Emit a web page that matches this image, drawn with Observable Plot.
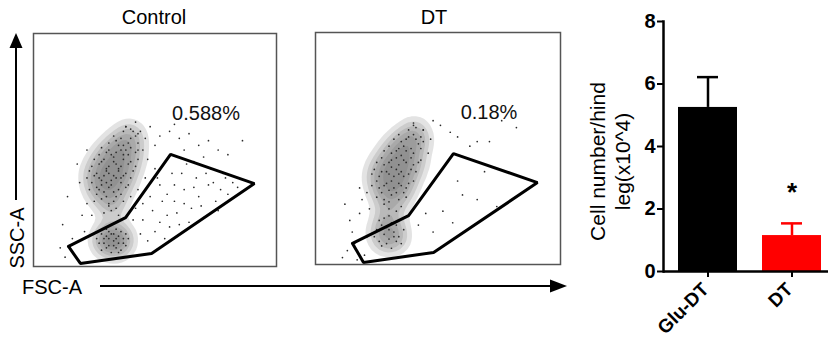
<!DOCTYPE html>
<html>
<head>
<meta charset="utf-8">
<script src="https://cdn.jsdelivr.net/npm/d3@7"></script>
<script src="https://cdn.jsdelivr.net/npm/@observablehq/plot@0.6"></script>
<style>
  html, body { margin: 0; padding: 0; background: #fff; }
  #wrap { position: relative; width: 831px; height: 342px; overflow: hidden; font-family: "Liberation Sans", Arial, sans-serif; }
  #wrap > * { position: absolute; }
</style>
</head>
<body>
<div id="wrap"></div>
<script>
// ---------- Flow cytometry panels (FSC-A vs SSC-A, arbitrary 0-100 units) ----------
const panelTitles = ["Control", "DT"];
const gatePercents = ["0.588%", "0.18%"];

const controlGate = [[14.4, 8.6], [37.9, 21.0], [56.4, 48.1], [90.9, 35.6], [48.6, 5.6], [19.3, 1.3], [14.4, 8.6]];
const dtGate = [[15.1, 9.1], [38.0, 21.1], [56.3, 47.8], [90.6, 35.3], [48.2, 5.2], [19.6, 0.9], [15.1, 9.1]];

const controlCore = [
  [29,23],[32,24],[35,22],[31,26],[34,25],
  [25,28],[28,29],[31,27],[34,30],[37,28],[26,31],[30,30],[33,28],[36,31],
  [23,33],[26,34],[29,32],[32,35],[35,33],[38,34],[24,36],[27,33],[30,36],[33,32],[36,36],[39,35],[28,35],[31,34],
  [22,38],[25,39],[28,37],[31,40],[34,38],[37,39],[40,38],[23,41],[26,40],[29,39],[32,37],[35,41],[38,40],[41,41],[30,41],[33,39],[27,38],[36,38],
  [24,43],[27,44],[30,42],[33,45],[36,43],[39,44],[42,43],[25,46],[28,45],[31,43],[34,44],[37,46],[40,45],[43,46],[29,46],[35,42],
  [27,48],[30,49],[33,47],[36,50],[39,48],[42,49],[28,51],[31,50],[34,49],[37,48],[40,51],[43,50],[32,48],[38,50],
  [31,53],[34,54],[37,52],[40,55],[43,53],[33,56],[36,55],[39,53],[42,56],[35,52],
  [37,58],[40,59],[43,57],[38,60],[41,58]
];
const controlLow = [
  [27,10],[29,12],[31,9],[33,11],[35,13],[37,10],[39,12],[28,14],[30,16],[32,14],
  [34,16],[36,15],[38,14],[28,7],[30,8],[32,6],[34,8],[36,7],[38,9],[29,10],
  [31,12],[33,14],[35,10],[37,12],[26,12],[31,15],[33,9],[35,6],[30,13],[34,12]
];
const controlGated = [
  [42,25],[45,20],[48,30],[50,15],[52,35],[55,22],[57,40],[58,28],[60,18],[62,33],
  [63,44],[65,25],[67,38],[68,30],[70,21],[72,35],[73,42],[75,28],[77,33],[79,38],
  [80,31],[82,36],[84,34],[46,38],[50,42],[53,28],[44,14],[47,11],[54,12],[59,23],
  [61,40],[64,19],[66,45],[69,26],[71,40],[76,24],[78,40],[40,30],[43,33],[56,17],
  [41,20],[49,24],[51,38],[55,31],[62,27],[66,34],[74,36],[45,27],[52,19],[58,35]
];
const controlSpray = [
  [44,58],[48,60],[52,56],[56,58],[60,55],[64,57],[68,52],[72,54],[76,50],[80,48],
  [86,54],[42,62],[50,52],[58,61],[62,50],[38,60],[46,55],[70,47],[45,50],[47,46]
];
const controlLeft = [[12,18],[14,30],[18,44],[20,22],[11,8],[16,12],[22,50],[19,36],[13,4],[21,15],[24,22],[22,27]];

const dtCore = [
  [30,24],[33,23],[28,26],[35,25],
  [25,29],[28,28],[31,30],[34,28],[37,29],[27,31],[30,27],[33,31],[36,31],
  [23,34],[26,33],[29,35],[32,33],[35,34],[38,35],[25,36],[28,34],[31,36],[34,35],[37,33],[40,36],[30,32],
  [23,39],[26,38],[29,40],[32,38],[35,40],[38,39],[41,40],[24,41],[27,40],[30,39],[33,41],[36,38],[39,41],[31,42],[34,39],
  [25,44],[28,43],[31,45],[34,43],[37,44],[40,43],[43,45],[27,46],[30,44],[33,46],[36,45],[39,46],[42,44],[35,47],
  [28,49],[31,48],[34,50],[37,49],[40,48],[43,50],[30,51],[33,49],[36,51],[39,50],[42,52],
  [32,54],[35,53],[38,55],[41,54],[44,53],[34,56],[37,54],[40,56],[43,55],
  [38,58],[41,59],[44,58],[40,61]
];
const dtLow = [
  [24,12],[26,10],[28,13],[30,11],[32,14],[34,12],[36,15],[25,15],[27,17],[29,16],[31,18],
  [33,17],[27,8],[29,9],[31,7],[33,10],[35,9],[28,20],[30,21],[26,19],[32,12],[30,15]
];
const dtGated = [[58,36],[69,40],[66,28],[74,25],[52,23],[60,30],[45,22],[42,17],[48,14],[56,18]];
const dtSpray = [[55,57],[66,53],[71,53],[82,59],[63,51],[51,60],[44,58],[47,54],[40,60],[58,55],[76,62],[46,48],[48,62]];
const dtLeft = [[13,6],[15,14],[18,22],[12,26],[20,4],[16,9],[19,28],[14,19],[21,12],[11,3],[17,2],[22,24],[21,31],[18,33]];

// ---------- Bar chart ----------
const groups = ["Glu-DT", "DT"];
const means = [5.25, 1.15];
const errors = [0.97, 0.39];
const barColors = ["#000000", "#ff0000"];
const significance = ["", "*"];
const yTicks = [0, 2, 4, 6, 8];
const yLabel = "Cell number/hind\nleg(x10^4)";

const FONT = '"Liberation Sans", Arial, sans-serif';
const wrap = document.getElementById("wrap");

function flowPanel(core, low, gated, spray, left, gate, pct, w, h) {
  const all = [...core, ...low, ...gated, ...spray, ...left];
  const dense = [...core, ...low];
  return Plot.plot({
    width: w, height: h, margin: 2,
    style: {fontFamily: FONT, background: "transparent", overflow: "visible"},
    x: {domain: [0, 100], axis: null},
    y: {domain: [0, 100], axis: null},
    marks: [
      Plot.density(dense, {x: d => d[0], y: d => d[1], bandwidth: 7, thresholds: 7, fill: "#666", fillOpacity: 0.18, stroke: null}),
      Plot.dot(all, {x: d => d[0], y: d => d[1], r: 0.85, fill: "#2a2a2a", stroke: null}),
      Plot.line(gate, {x: d => d[0], y: d => d[1], stroke: "#000", strokeWidth: 3, strokeLinejoin: "miter"}),
      Plot.text([pct], {frameAnchor: "top", dx: 51, dy: 72, text: d => d, fontSize: 20, fill: "#111"}),
      Plot.frame({stroke: "#555", strokeWidth: 1.5})
    ]
  });
}

const p1 = flowPanel(controlCore, controlLow, controlGated, controlSpray, controlLeft, controlGate, gatePercents[0], 247, 237);
p1.style.left = "31px"; p1.style.top = "31px";
wrap.appendChild(p1);

const p2 = flowPanel(dtCore, dtLow, dtGated, dtSpray, dtLeft, dtGate, gatePercents[1], 249, 236);
p2.style.left = "313px"; p2.style.top = "30px";
wrap.appendChild(p2);

// Overlay: titles, axis arrows and axis names
const ov = d3.create("svg").attr("width", 831).attr("height", 342)
  .style("left", "0px").style("top", "0px").style("font-family", FONT);
ov.append("text").attr("x", 154).attr("y", 24).attr("text-anchor", "middle").attr("font-size", 20).text(panelTitles[0]);
ov.append("text").attr("x", 434).attr("y", 24).attr("text-anchor", "middle").attr("font-size", 20).text(panelTitles[1]);
ov.append("line").attr("x1", 16).attr("x2", 16).attr("y1", 200).attr("y2", 46).attr("stroke", "#000").attr("stroke-width", 2);
ov.append("path").attr("d", "M16,33L9.5,48L22.5,48Z").attr("fill", "#000");
ov.append("line").attr("x1", 100).attr("x2", 553).attr("y1", 286).attr("y2", 286).attr("stroke", "#000").attr("stroke-width", 2);
ov.append("path").attr("d", "M567,286L550,279.5L550,292.5Z").attr("fill", "#000");
ov.append("text").attr("transform", "translate(24,238) rotate(-90)").attr("text-anchor", "middle").attr("font-size", 20).text("SSC-A");
ov.append("text").attr("x", 22).attr("y", 294).attr("font-size", 20).text("FSC-A");
wrap.appendChild(ov.node());

// Bar chart
const barData = groups.map((g, i) => ({group: g, mean: means[i], upper: means[i] + errors[i], color: barColors[i], sig: significance[i]}));
const bar = Plot.plot({
  width: 251, height: 342,
  marginLeft: 83, marginRight: 3, marginTop: 21, marginBottom: 71,
  style: {fontFamily: FONT, color: "#000", background: "transparent", overflow: "visible"},
  color: {type: "identity"},
  x: {domain: groups, paddingInner: 0.294, paddingOuter: 0.118, align: 0.7},
  y: {domain: [0, 8]},
  marks: [
    Plot.ruleX(barData, {x: "group", y1: "mean", y2: "upper", stroke: "color", strokeWidth: 2.5}),
    Plot.barY(barData, {x: "group", y: "mean", fill: "color"}),
    Plot.tickY(barData, {x: "group", y: "upper", stroke: "color", strokeWidth: 2.5, insetLeft: 19, insetRight: 19}),
    Plot.text(barData.filter(d => d.sig), {x: "group", y: "upper", text: "sig", dy: -31, fontSize: 26, fontWeight: "bold"}),
    Plot.axisY({ticks: yTicks, tickSize: 6, tickFormat: () => "", strokeWidth: 2, label: null}),
    Plot.axisX({tickSize: 6, tickFormat: () => "", strokeWidth: 2, label: null}),
    Plot.text(yTicks, {y: d => d, frameAnchor: "left", dx: -8, textAnchor: "end", text: d => String(d), fontSize: 20, fontWeight: "bold"}),
    Plot.text(groups, {x: d => d, frameAnchor: "bottom", dx: 2, dy: 19, rotate: -45, textAnchor: "end", text: d => d, fontSize: 19, fontWeight: "bold"}),
    Plot.ruleY([0], {strokeWidth: 2.5}),
    Plot.frame({anchor: "left", strokeWidth: 2.5}),
    Plot.text([yLabel], {frameAnchor: "left", dx: -54, dy: 15, rotate: -90, textAnchor: "middle", text: d => d, fontSize: 21, fontWeight: "normal", lineHeight: 1.2})
  ]
});
bar.style.left = "580px"; bar.style.top = "0px";
wrap.appendChild(bar);
</script>
</body>
</html>
